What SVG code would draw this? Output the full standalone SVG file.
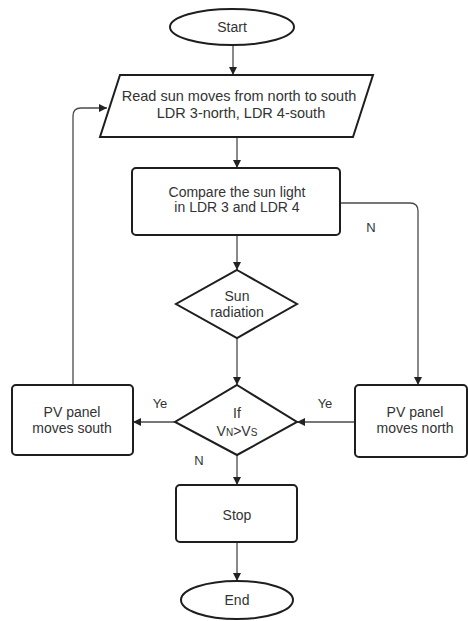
<svg xmlns="http://www.w3.org/2000/svg" width="468" height="621" viewBox="0 0 468 621">
<defs>
<marker id="arr" viewBox="0 0 10 10" refX="10" refY="5" markerWidth="8" markerHeight="8" markerUnits="userSpaceOnUse" orient="auto">
<path d="M0,0 L10,5 L0,10 z" fill="#222"/>
</marker>
<style>
.shape{fill:#fff;stroke:#1e1e1e;stroke-width:2}
.conn{fill:none;stroke:#4a4a4a;stroke-width:1.3;marker-end:url(#arr)}
.t{font-family:"Liberation Sans",Arial,sans-serif;font-size:14px;fill:#333;text-anchor:middle}
.lbl{font-family:"Liberation Sans",Arial,sans-serif;font-size:13px;fill:#333;text-anchor:middle}
</style>
</defs>
<rect width="468" height="621" fill="#fff"/>
<g id="connectors">
<path class="conn" d="M233,45 V75"/>
<path class="conn" d="M237,137 V168"/>
<path class="conn" d="M237,235 V270"/>
<path class="conn" d="M237,338 V385"/>
<path class="conn" d="M237,455 V485"/>
<path class="conn" d="M237,542 V581"/>
<path class="conn" d="M340,203 H410 Q418,203 418,211 V385"/>
<path class="conn" d="M355,422 H297"/>
<path class="conn" d="M175,422 H133"/>
<path class="conn" d="M73,385 V116 Q73,108 81,108 H107"/>
<text class="lbl" x="371" y="232">N</text>
<text class="lbl" x="325" y="408">Ye</text>
<text class="lbl" x="160" y="408">Ye</text>
<text class="lbl" x="199" y="465">N</text>
</g>
<g id="start">
<ellipse class="shape" cx="232" cy="27" rx="62" ry="18"/>
<text class="t" x="232" y="32">Start</text>
</g>
<g id="read">
<polygon class="shape" points="120,75 373,75 353,137 100,137"/>
<text class="t" x="239" y="101" style="font-size:14.5px">Read sun moves from north to south</text>
<text class="t" x="241" y="118" style="font-size:14.5px">LDR 3-north, LDR 4-south</text>
</g>
<g id="compare">
<rect class="shape" x="132" y="168" width="208" height="67" rx="4"/>
<text class="t" x="237" y="197">Compare the sun light</text>
<text class="t" x="237" y="212">in LDR 3 and LDR 4</text>
</g>
<g id="sun">
<polygon class="shape" points="237,270 297,304 237,338 176,304"/>
<text class="t" x="237" y="301">Sun</text>
<text class="t" x="237" y="317">radiation</text>
</g>
<g id="if">
<polygon class="shape" points="237,385 297,422 237,455 175,422"/>
<text class="t" x="237" y="418">If</text>
<text class="t" x="237" y="436">V<tspan font-size="10">N</tspan>&gt;V<tspan font-size="10">S</tspan></text>
</g>
<g id="south">
<rect class="shape" x="12" y="385" width="121" height="70" rx="4"/>
<text class="t" x="72" y="417">PV panel</text>
<text class="t" x="72" y="433">moves south</text>
</g>
<g id="north">
<rect class="shape" x="355" y="385" width="112" height="72" rx="4"/>
<text class="t" x="415" y="417">PV panel</text>
<text class="t" x="415" y="433">moves north</text>
</g>
<g id="stop">
<rect class="shape" x="176" y="485" width="121" height="57" rx="4"/>
<text class="t" x="237" y="520">Stop</text>
</g>
<g id="end">
<ellipse class="shape" cx="237" cy="600" rx="56" ry="19"/>
<text class="t" x="237" y="605">End</text>
</g>
</svg>
